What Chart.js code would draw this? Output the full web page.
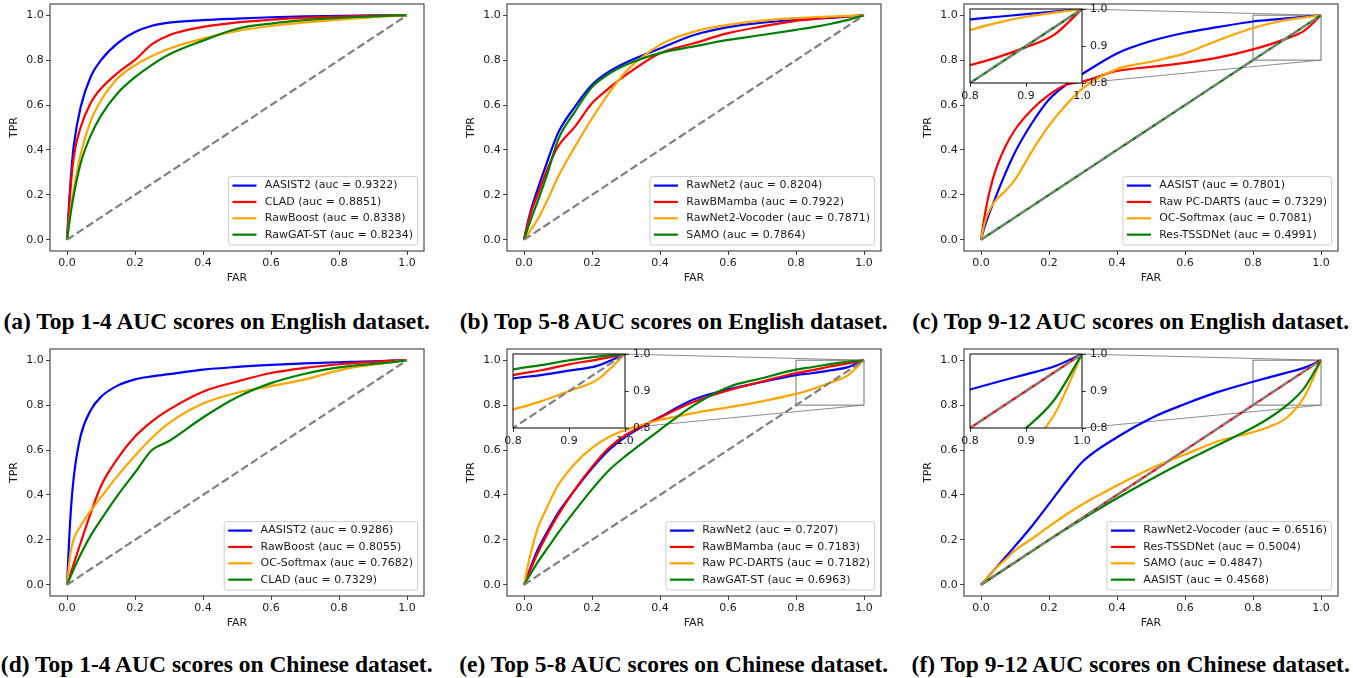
<!DOCTYPE html>
<html>
<head>
<meta charset="utf-8">
<script src="https://cdn.jsdelivr.net/npm/chart.js@4.4.1/dist/chart.umd.min.js"></script>
<style>
    body { margin: 0; background: #fff; width: 1353px; height: 678px; position: relative; overflow: hidden; }
    canvas { position: absolute; }
    .legenda { position: absolute; width: 456px; text-align: center; font: bold 23.5px "Liberation Serif", serif; line-height: 1; white-space: nowrap; color: #000; }
</style>
</head>
<body>
<script>
// eixo FAR comum a todas as curvas
const far = [0, 0.01, 0.02, 0.04, 0.07, 0.1, 0.15, 0.2, 0.25, 0.3, 0.4, 0.5, 0.6, 0.7, 0.8, 0.85, 0.9, 0.95, 1]
const diagonal = [0, 1]
const ticksPrincipal = [0, 0.2, 0.4, 0.6, 0.8, 1.0]
const ticksZoom = [0.8, 0.9, 1.0]
const cores = ['#0000ff', '#ff0000', '#ffa500', '#008000']

// (a) ingles, top 1-4
const labelsA = ['AASIST2 (auc = 0.9322)', 'CLAD (auc = 0.8851)', 'RawBoost (auc = 0.8338)', 'RawGAT-ST (auc = 0.8234)']
const aasist2En = [0, 0.25, 0.42, 0.59, 0.727, 0.80, 0.877, 0.925, 0.953, 0.967, 0.978, 0.985, 0.991, 0.995, 0.997, 0.998, 0.999, 1, 1]
const cladEn = [0, 0.22, 0.37, 0.50, 0.61, 0.673, 0.744, 0.801, 0.871, 0.911, 0.948, 0.968, 0.98, 0.989, 0.994, 0.996, 0.998, 0.999, 1]
const rawboostEn = [0, 0.12, 0.225, 0.38, 0.53, 0.62, 0.72, 0.777, 0.818, 0.851, 0.896, 0.93, 0.952, 0.968, 0.98, 0.986, 0.991, 0.996, 1]
const rawgatstEn = [0, 0.11, 0.20, 0.34, 0.465, 0.553, 0.655, 0.724, 0.779, 0.825, 0.887, 0.94, 0.963, 0.978, 0.988, 0.992, 0.995, 0.998, 1]

// (b) ingles, top 5-8
const labelsB = ['RawNet2 (auc = 0.8204)', 'RawBMamba (auc = 0.7922)', 'RawNet2-Vocoder (auc = 0.7871)', 'SAMO (auc = 0.7864)']
const rawnet2En = [0, 0.07, 0.13, 0.225, 0.355, 0.475, 0.593, 0.69, 0.749, 0.79, 0.852, 0.912, 0.947, 0.967, 0.979, 0.984, 0.988, 0.994, 1]
const rawbmambaEn = [0, 0.065, 0.12, 0.2, 0.32, 0.415, 0.504, 0.608, 0.675, 0.734, 0.831, 0.875, 0.92, 0.95, 0.975, 0.983, 0.99, 0.995, 1]
const vocoderEn = [0, 0.02, 0.045, 0.09, 0.18, 0.28, 0.415, 0.54, 0.653, 0.749, 0.868, 0.927, 0.957, 0.976, 0.987, 0.991, 0.994, 0.997, 1]
const samoEn = [0, 0.045, 0.09, 0.17, 0.3, 0.445, 0.571, 0.68, 0.739, 0.779, 0.831, 0.861, 0.89, 0.912, 0.935, 0.947, 0.961, 0.978, 1]

// (c) ingles, top 9-12
const labelsC = ['AASIST (auc = 0.7801)', 'Raw PC-DARTS (auc = 0.7329)', 'OC-Softmax (auc = 0.7081)', 'Res-TSSDNet (auc = 0.4991)']
const aasistEn = [0, 0.055, 0.10, 0.178, 0.29, 0.39, 0.52, 0.625, 0.69, 0.74, 0.83, 0.885, 0.922, 0.948, 0.972, 0.979, 0.986, 0.993, 1]
const pcdartsEn = [0, 0.10, 0.18, 0.297, 0.41, 0.49, 0.58, 0.645, 0.69, 0.705, 0.752, 0.77, 0.788, 0.812, 0.848, 0.87, 0.897, 0.93, 1]
const ocsoftmaxEn = [0, 0.07, 0.115, 0.17, 0.215, 0.268, 0.395, 0.508, 0.60, 0.675, 0.76, 0.793, 0.83, 0.89, 0.943, 0.963, 0.979, 0.99, 1]
const restssdEn = [0, 0.01, 0.02, 0.04, 0.07, 0.1, 0.15, 0.2, 0.25, 0.3, 0.4, 0.5, 0.6, 0.7, 0.8, 0.85, 0.9, 0.95, 1]

// (d) chines, top 1-4
const labelsD = ['AASIST2 (auc = 0.9286)', 'RawBoost (auc = 0.8055)', 'OC-Softmax (auc = 0.7682)', 'CLAD (auc = 0.7329)']
const aasist2Zh = [0, 0.30, 0.48, 0.662, 0.778, 0.837, 0.888, 0.915, 0.928, 0.938, 0.958, 0.97, 0.979, 0.986, 0.991, 0.993, 0.995, 0.998, 1]
const rawboostZh = [0, 0.047, 0.094, 0.186, 0.32, 0.44, 0.565, 0.66, 0.728, 0.78, 0.86, 0.905, 0.943, 0.966, 0.982, 0.988, 0.993, 0.997, 1]
const ocsoftmaxZh = [0, 0.14, 0.205, 0.262, 0.33, 0.39, 0.487, 0.575, 0.655, 0.72, 0.807, 0.855, 0.885, 0.915, 0.955, 0.97, 0.98, 0.99, 1]
const cladZh = [0, 0.035, 0.07, 0.135, 0.22, 0.29, 0.40, 0.50, 0.60, 0.64, 0.745, 0.835, 0.898, 0.94, 0.968, 0.977, 0.984, 0.99, 1]

// (e) chines, top 5-8
const labelsE = ['RawNet2 (auc = 0.7207)', 'RawBMamba (auc = 0.7183)', 'Raw PC-DARTS (auc = 0.7182)', 'RawGAT-ST (auc = 0.6963)']
const rawnet2Zh = [0, 0.04, 0.08, 0.155, 0.24, 0.319, 0.423, 0.519, 0.601, 0.66, 0.747, 0.826, 0.87, 0.903, 0.934, 0.943, 0.955, 0.968, 1]
const rawbmambaZh = [0, 0.035, 0.07, 0.14, 0.23, 0.31, 0.425, 0.525, 0.61, 0.668, 0.745, 0.815, 0.865, 0.905, 0.943, 0.956, 0.972, 0.985, 1]
const pcdartsZh = [0, 0.075, 0.141, 0.25, 0.352, 0.443, 0.54, 0.61, 0.658, 0.69, 0.734, 0.765, 0.79, 0.817, 0.85, 0.872, 0.9, 0.93, 1]
const rawgatstZh = [0, 0.025, 0.05, 0.1, 0.165, 0.23, 0.33, 0.425, 0.51, 0.575, 0.69, 0.8, 0.88, 0.92, 0.958, 0.97, 0.983, 0.993, 1]

// (f) chines, top 9-12
const labelsF = ['RawNet2-Vocoder (auc = 0.6516)', 'Res-TSSDNet (auc = 0.5004)', 'SAMO (auc = 0.4847)', 'AASIST (auc = 0.4568)']
const vocoderZh = [0, 0.017, 0.034, 0.068, 0.12, 0.172, 0.262, 0.36, 0.46, 0.55, 0.657, 0.742, 0.805, 0.86, 0.904, 0.925, 0.945, 0.966, 1]
const restssdZh = [0, 0.01, 0.02, 0.04, 0.07, 0.1, 0.15, 0.2, 0.25, 0.3, 0.4, 0.5, 0.6, 0.7, 0.8, 0.85, 0.9, 0.95, 1]
const samoZh = [0, 0.018, 0.035, 0.068, 0.11, 0.153, 0.205, 0.26, 0.312, 0.36, 0.442, 0.518, 0.58, 0.64, 0.68, 0.705, 0.745, 0.835, 1]
const aasistZh = [0, 0.01, 0.02, 0.04, 0.07, 0.1, 0.15, 0.2, 0.248, 0.295, 0.385, 0.47, 0.55, 0.625, 0.70, 0.745, 0.80, 0.875, 1]

const legendas = [
    '(a) Top 1-4 AUC scores on English dataset.',
    '(b) Top 5-8 AUC scores on English dataset.',
    '(c) Top 9-12 AUC scores on English dataset.',
    '(d) Top 1-4 AUC scores on Chinese dataset.',
    '(e) Top 5-8 AUC scores on Chinese dataset.',
    '(f) Top 9-12 AUC scores on Chinese dataset.'
]

const paineis = [
    { labels: labelsA, series: [aasist2En, cladEn, rawboostEn, rawgatstEn], zoom: false },
    { labels: labelsB, series: [rawnet2En, rawbmambaEn, vocoderEn, samoEn], zoom: false },
    { labels: labelsC, series: [aasistEn, pcdartsEn, ocsoftmaxEn, restssdEn], zoom: true },
    { labels: labelsD, series: [aasist2Zh, rawboostZh, ocsoftmaxZh, cladZh], zoom: false },
    { labels: labelsE, series: [rawnet2Zh, rawbmambaZh, pcdartsZh, rawgatstZh], zoom: true },
    { labels: labelsF, series: [vocoderZh, restssdZh, samoZh, aasistZh], zoom: true }
]

// layout (px)
const colunas = [50, 507, 964]
const linhas = [4, 349]
const larguraArea = 374
const alturaArea = 247
const inset = { dx: 6, dy: 5, w: 112, h: 74 }
const corTexto = '#1a1a1a'
const fonte = { family: 'DejaVu Sans', size: 11 }

Chart.defaults.font.family = 'DejaVu Sans'
Chart.defaults.font.size = 11
Chart.defaults.color = corTexto

function criarCanvas(left, top, w, h) {
    const c = document.createElement('canvas')
    c.width = w
    c.height = h
    c.style.left = left + 'px'
    c.style.top = top + 'px'
    c.style.width = w + 'px'
    c.style.height = h + 'px'
    document.body.appendChild(c)
    return c
}

function montarDatasets(series, clip) {
    const datasets = series.map((valores, i) => ({
        data: far.map((x, k) => ({ x: x, y: valores[k] })),
        borderColor: cores[i],
        borderWidth: 2.2,
        pointRadius: 0,
        fill: false,
        cubicInterpolationMode: 'monotone',
        borderJoinStyle: 'round',
        clip: clip,
        order: 5 - i
    }))
    datasets.push({
        data: diagonal.map(v => ({ x: v, y: v })),
        borderColor: '#808080',
        borderWidth: 2.2,
        borderDash: [8.1, 3.5],
        pointRadius: 0,
        fill: false,
        clip: clip,
        order: 1
    })
    return datasets
}

const moldura = {
    id: 'moldura',
    beforeDraw(chart, args, opts) {
        if (!opts.fundo) return
        const a = chart.chartArea
        const ctx = chart.ctx
        ctx.save()
        ctx.fillStyle = '#fff'
        ctx.fillRect(a.left, a.top, a.width, a.height)
        ctx.restore()
    },
    beforeDatasetsDraw(chart, args, opts) {
        if (!opts.zoom) return
        const ctx = chart.ctx
        const a = chart.chartArea
        const sx = chart.scales.x
        const sy = chart.scales.y
        const x1 = sx.getPixelForValue(ticksZoom[0])
        const x2 = sx.getPixelForValue(ticksZoom[2])
        const y1 = sy.getPixelForValue(ticksZoom[2])
        const y2 = sy.getPixelForValue(ticksZoom[0])
        const ix = a.left + inset.dx + inset.w
        ctx.save()
        ctx.strokeStyle = '#808080'
        ctx.lineWidth = 1.1
        ctx.strokeRect(x1, y1, x2 - x1, y2 - y1)
        ctx.lineWidth = 0.9
        ctx.beginPath()
        ctx.moveTo(ix, a.top + inset.dy)
        ctx.lineTo(x2, y1)
        ctx.moveTo(ix, a.top + inset.dy + inset.h)
        ctx.lineTo(x2, y2)
        ctx.stroke()
        ctx.restore()
    },
    afterDatasetsDraw(chart, args, opts) {
        const ctx = chart.ctx
        const a = chart.chartArea
        ctx.save()
        ctx.strokeStyle = opts.corMoldura
        ctx.lineWidth = opts.espessura
        ctx.strokeRect(a.left, a.top, a.width, a.height)

        if (opts.labels) {
            ctx.font = '11px "DejaVu Sans"'
            const maxW = Math.max(...opts.labels.map(t => ctx.measureText(t).width))
            const w = 4 + 24 + 8.3 + maxW + 4.7
            const h = 68.4
            const right = a.right - 6.3
            const bottom = a.bottom - 6
            const left = right - w
            const top = bottom - h
            ctx.beginPath()
            ctx.roundRect(left, top, w, h, 2.5)
            ctx.fillStyle = 'rgba(255,255,255,0.8)'
            ctx.fill()
            ctx.strokeStyle = '#cccccc'
            ctx.lineWidth = 1
            ctx.stroke()
            ctx.textBaseline = 'middle'
            ctx.textAlign = 'left'
            for (let i = 0; i < opts.labels.length; i++) {
                const y = top + 9 + i * 16.35
                ctx.strokeStyle = cores[i]
                ctx.lineWidth = 2.2
                ctx.beginPath()
                ctx.moveTo(left + 4, y)
                ctx.lineTo(left + 28, y)
                ctx.stroke()
                ctx.fillStyle = corTexto
                ctx.fillText(opts.labels[i], left + 36.3, y)
            }
        }
        ctx.restore()
    }
}

function eixo(min, max, valores, extra) {
    return Object.assign({
        type: 'linear',
        min: min,
        max: max,
        bounds: 'data',
        afterBuildTicks: s => { s.ticks = valores.map(v => ({ value: v })) },
        grid: { drawOnChartArea: false, drawTicks: true, tickLength: 3.9, color: '#222', lineWidth: 0.9 },
        border: { display: false },
        ticks: { color: corTexto, font: fonte, maxRotation: 0, autoSkip: false, callback: v => v.toFixed(1) }
    }, extra)
}

paineis.forEach((p, idx) => {
    const FL = colunas[idx % 3]
    const FT = linhas[Math.floor(idx / 3)]

    const canvas = criarCanvas(FL - 50, FT - 10, 50 + larguraArea + 10, 10 + alturaArea + 39)
    const ex = eixo(-0.05, 1.05, ticksPrincipal, {})
    ex.afterFit = s => { s.height = 39 }
    ex.ticks.padding = 1.8
    ex.title = { display: true, text: 'FAR', color: corTexto, font: fonte, padding: { top: 0, bottom: 5.1 } }
    const ey = eixo(-0.05, 1.05, ticksPrincipal, { position: 'left' })
    ey.afterFit = s => { s.width = 50 }
    ey.ticks.padding = 2.4
    ey.title = { display: true, text: 'TPR', color: corTexto, font: fonte, padding: { top: 7.9, bottom: 0 } }

    new Chart(canvas, {
        type: 'line',
        data: { datasets: montarDatasets(p.series, undefined) },
        options: {
            responsive: false,
            animation: false,
            events: [],
            layout: { padding: { left: 0, top: 10, right: 10, bottom: 0 } },
            plugins: {
                legend: { display: false },
                tooltip: { enabled: false },
                moldura: { labels: p.labels, zoom: p.zoom, corMoldura: '#3c3c3c', espessura: 1.1 }
            },
            scales: { x: ex, y: ey }
        },
        plugins: [moldura]
    })

    // legenda da figura
    const cap = document.createElement('div')
    cap.className = 'legenda'
    cap.textContent = legendas[idx]
    cap.style.left = (FL + 166.7 - 228) + 'px'
    cap.style.top = (FT === linhas[0] ? 310.3 : 653.3) + 'px'
    document.body.appendChild(cap)
})

// insets com zoom no canto superior direito
paineis.forEach((p, idx) => {
    if (!p.zoom) return
    const FL = colunas[idx % 3]
    const FT = linhas[Math.floor(idx / 3)]
    const padL = 14, padT = 12, wy = 34, hx = 22
    const canvas = criarCanvas(FL + inset.dx - padL, FT + inset.dy - padT, padL + inset.w + wy, padT + inset.h + hx)

    const ex = eixo(ticksZoom[0], ticksZoom[2], ticksZoom, {})
    ex.afterFit = s => { s.height = hx }
    ex.ticks.padding = 2.5
    const ey = eixo(ticksZoom[0], ticksZoom[2], ticksZoom, { position: 'right' })
    ey.afterFit = s => { s.width = wy }
    ey.ticks.padding = 4.1

    new Chart(canvas, {
        type: 'line',
        data: { datasets: montarDatasets(p.series, 0) },
        options: {
            responsive: false,
            animation: false,
            events: [],
            layout: { padding: { left: padL, top: padT, right: 0, bottom: 0 } },
            plugins: {
                legend: { display: false },
                tooltip: { enabled: false },
                moldura: { fundo: true, corMoldura: '#000', espessura: 1 }
            },
            scales: { x: ex, y: ey }
        },
        plugins: [moldura]
    })
})
</script>
</body>
</html>
